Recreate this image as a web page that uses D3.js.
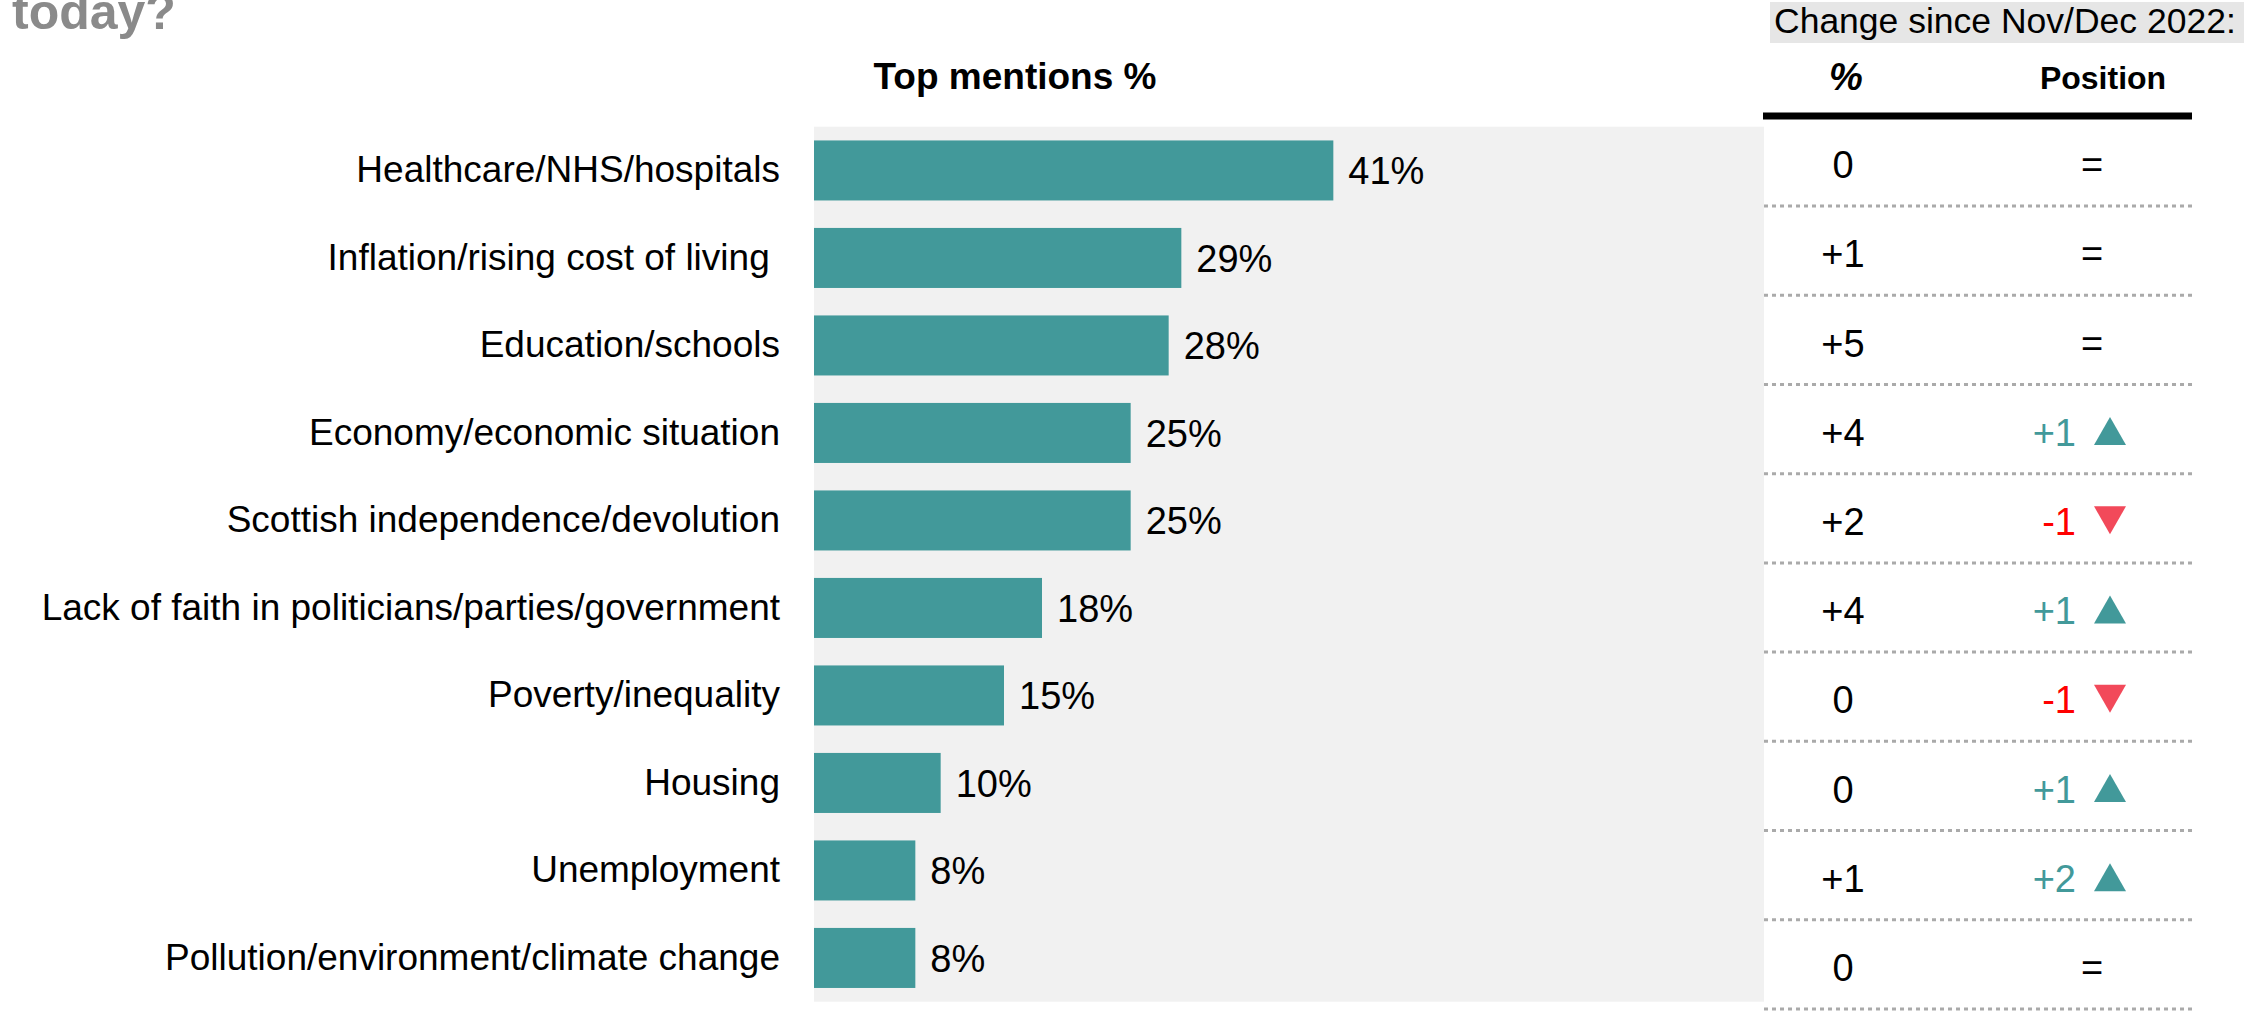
<!DOCTYPE html>
<html>
<head>
<meta charset="utf-8">
<script src="https://cdn.jsdelivr.net/npm/d3@7"></script>
<style>
  body { margin: 0; background: #fff; }
  svg { display: block; font-family: Arial, "Liberation Sans", sans-serif; }
  text { white-space: pre; }
</style>
</head>
<body>
<svg width="2244" height="1011"></svg>
<script>
// chart data
var categories = [
  "Healthcare/NHS/hospitals",
  "Inflation/rising cost of living ",
  "Education/schools",
  "Economy/economic situation",
  "Scottish independence/devolution",
  "Lack of faith in politicians/parties/government",
  "Poverty/inequality",
  "Housing",
  "Unemployment",
  "Pollution/environment/climate change"
];
var mentions = [41, 29, 28, 25, 25, 18, 15, 10, 8, 8];
var pctChange = ["0", "+1", "+5", "+4", "+2", "+4", "0", "0", "+1", "0"];
var posChange = [0, 0, 0, 1, -1, 1, -1, 1, 2, 0];

window.onload = function() {
	var teal = "#42999a";
	var svg = d3.select("svg"),
	    width = +svg.attr("width"),
	    height = +svg.attr("height");

	var rows = categories.map(function(c, i) {
		return { name: c, value: mentions[i], pct: pctChange[i], pos: posChange[i] };
	});

	var x = d3.scaleLinear().domain([0, 75]).range([814, 1764]);
	var y = d3.scaleBand().domain(categories).range([126.7, 1001.7])
	          .paddingInner(0.314).paddingOuter(0.157);
	// table rows have their own spacing
	var ty = d3.scaleBand().domain(categories).range([116.8, 1009]);

	// title fragment (cut off at top, as in the source)
	svg.append("text")
	   .attr("x", 12).attr("y", 29)
	   .attr("fill", "#8a8a8a")
	   .attr("font-weight", "bold")
	   .attr("font-size", "50px")
	   .text("today?");

	// grey plot background
	svg.append("rect")
	   .attr("x", x(0)).attr("y", 126.7)
	   .attr("width", x.range()[1] - x(0))
	   .attr("height", 875)
	   .attr("fill", "#f1f1f1");

	svg.append("text")
	   .attr("x", 1015).attr("y", 89)
	   .attr("text-anchor", "middle")
	   .attr("font-weight", "bold")
	   .attr("font-size", "37px")
	   .text("Top mentions %");

	// category labels
	svg.append("g").selectAll("text")
	   .data(rows).enter().append("text")
	   .attr("x", 780)
	   .attr("y", function(d) { return y(d.name) + y.bandwidth() / 2; })
	   .attr("dy", "0.32em")
	   .attr("text-anchor", "end")
	   .attr("font-size", "37px")
	   .attr("fill", "#000")
	   .text(function(d) { return d.name; });

	// bars
	svg.append("g").selectAll("rect")
	   .data(rows).enter().append("rect")
	   .attr("x", x(0))
	   .attr("y", function(d) { return y(d.name); })
	   .attr("width", function(d) { return x(d.value) - x(0); })
	   .attr("height", y.bandwidth())
	   .attr("fill", teal);

	// value labels
	svg.append("g").selectAll("text")
	   .data(rows).enter().append("text")
	   .attr("x", function(d) { return x(d.value) + 15; })
	   .attr("y", function(d) { return y(d.name) + y.bandwidth() / 2; })
	   .attr("dy", "0.36em")
	   .attr("font-size", "38px")
	   .text(function(d) { return d.value + "%"; });

	// change table header
	svg.append("rect")
	   .attr("x", 1770).attr("y", 2)
	   .attr("width", width - 1770).attr("height", 41)
	   .attr("fill", "#e6e6e6");
	svg.append("text")
	   .attr("x", 1774).attr("y", 33)
	   .attr("font-size", "35.5px")
	   .text("Change since Nov/Dec 2022:");
	svg.append("text")
	   .attr("x", 1846).attr("y", 90)
	   .attr("text-anchor", "middle")
	   .attr("font-weight", "bold")
	   .attr("font-style", "italic")
	   .attr("font-size", "38px")
	   .text("%");
	svg.append("text")
	   .attr("x", 2103).attr("y", 89)
	   .attr("text-anchor", "middle")
	   .attr("font-weight", "bold")
	   .attr("font-size", "32px")
	   .text("Position");
	svg.append("line")
	   .attr("x1", 1763).attr("x2", 2192)
	   .attr("y1", 116).attr("y2", 116)
	   .attr("stroke", "#000")
	   .attr("stroke-width", 7);

	// dotted separators
	svg.append("g").selectAll("line")
	   .data(rows).enter().append("line")
	   .attr("x1", 1764).attr("x2", 2192)
	   .attr("y1", function(d) { return ty(d.name) + ty.bandwidth(); })
	   .attr("y2", function(d) { return ty(d.name) + ty.bandwidth(); })
	   .attr("stroke", "#aaa")
	   .attr("stroke-width", 3)
	   .attr("stroke-dasharray", "4,4");

	function rowMid(d) { return ty(d.name) + ty.bandwidth() / 2 + 3; }

	// % change column
	svg.append("g").selectAll("text")
	   .data(rows).enter().append("text")
	   .attr("x", 1843)
	   .attr("y", rowMid)
	   .attr("dy", "0.36em")
	   .attr("text-anchor", "middle")
	   .attr("font-size", "38px")
	   .text(function(d) { return d.pct; });

	// position column
	var pos = svg.append("g").selectAll("g")
	   .data(rows).enter().append("g");

	pos.filter(function(d) { return d.pos === 0; })
	   .append("text")
	   .attr("x", 2092)
	   .attr("y", rowMid)
	   .attr("dy", "0.36em")
	   .attr("text-anchor", "middle")
	   .attr("font-size", "38px")
	   .text("=");

	var moved = pos.filter(function(d) { return d.pos !== 0; });
	moved.append("text")
	   .attr("x", 2076)
	   .attr("y", rowMid)
	   .attr("dy", "0.36em")
	   .attr("text-anchor", "end")
	   .attr("font-size", "38px")
	   .attr("fill", function(d) { return d.pos > 0 ? teal : "#ff0000"; })
	   .text(function(d) { return (d.pos > 0 ? "+" : "") + d.pos; });
	moved.append("path")
	   .attr("transform", function(d) { return "translate(2110," + (rowMid(d) - 1) + ")"; })
	   .attr("d", function(d) {
	   	return d.pos > 0 ? "M-16,14L16,14L0,-14Z" : "M-16,-14L16,-14L0,14Z";
	   })
	   .attr("fill", function(d) { return d.pos > 0 ? teal : "#f2495a"; });
};
</script>
</body>
</html>
